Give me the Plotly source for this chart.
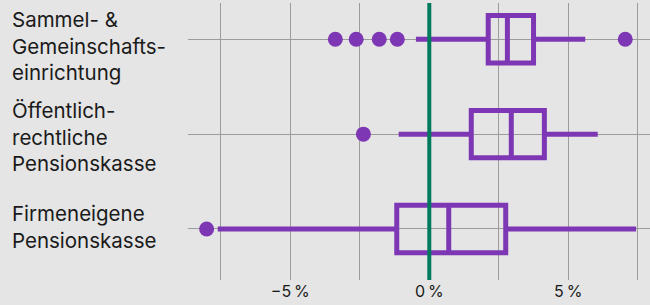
import plotly.graph_objects as go

categories = ["Sammel- &<br>Gemeinschafts-<br>einrichtung",
              "Öffentlich-<br>rechtliche<br>Pensionskasse",
              "Firmeneigene<br>Pensionskasse"]
positions = [0, 1, 2]
q1 = [2.12, 1.51, -1.17]
median = [2.81, 2.95, 0.70]
q3 = [3.75, 4.14, 2.75]
lowerfence = [-0.48, -1.10, -7.61]
upperfence = [5.61, 6.06, 7.44]
outlier_x = [-3.38, -2.63, -1.80, -1.15, 7.05, -2.37, -8.01]
outlier_cat = [0, 0, 0, 0, 0, 1, 2]
tick_vals = [-7.5, -5, -2.5, 0, 2.5, 5, 7.5]
tick_text = ["", "\u22125\u202f%", "", "0\u202f%", "", "5\u202f%", ""]

PURPLE = "#7e37b4"
GREEN = "#007a5c"
BG = "#e5e5e5"
GRID = "#9c9c9c"
FONT = "Inter, Roboto, sans-serif"
label_yshift = [-7, -3, 2]

fig = go.Figure()
fig.add_trace(go.Box(
    y=positions, q1=q1, median=median, q3=q3,
    lowerfence=lowerfence, upperfence=upperfence,
    orientation="h", width=0.5, boxpoints=False,
    line=dict(color=PURPLE, width=5), fillcolor="rgba(0,0,0,0)",
    whiskerwidth=0, showlegend=False, hoverinfo="skip"))
fig.add_trace(go.Scatter(
    x=outlier_x, y=outlier_cat, mode="markers",
    marker=dict(color=PURPLE, size=15), showlegend=False, hoverinfo="skip"))

fig.add_shape(type="line", xref="x", yref="paper", x0=0, x1=0, y0=0, y1=1,
              line=dict(color=GREEN, width=4), layer="above")

for p, c, ys in zip(positions, categories, label_yshift):
    fig.add_annotation(x=0, xref="paper", xshift=-178, y=p, yref="y", yshift=ys,
                       text=c, showarrow=False, xanchor="left", yanchor="middle",
                       align="left", font=dict(family=FONT, size=20.5, color="#1a1a1a"))

fig.update_layout(
    width=650, height=305,
    margin=dict(l=188, r=0, t=3, b=25),
    paper_bgcolor=BG, plot_bgcolor=BG,
    font=dict(family=FONT, size=16, color="#1a1a1a"),
    xaxis=dict(range=[-8.68, 7.94], tickmode="array", tickvals=tick_vals,
               ticktext=tick_text, showgrid=True, gridcolor=GRID, gridwidth=1,
               zeroline=False, showline=False, ticks="", fixedrange=True),
    yaxis=dict(range=[2.538, -0.383], tickmode="array", tickvals=positions,
               showticklabels=False, showgrid=True, gridcolor=GRID, gridwidth=1,
               zeroline=False, showline=False, ticks="", fixedrange=True),
)

fig.write_html("out.html", config={"displayModeBar": False},
               post_script="document.body.style.margin='0';document.body.style.background='" + BG + "';")
